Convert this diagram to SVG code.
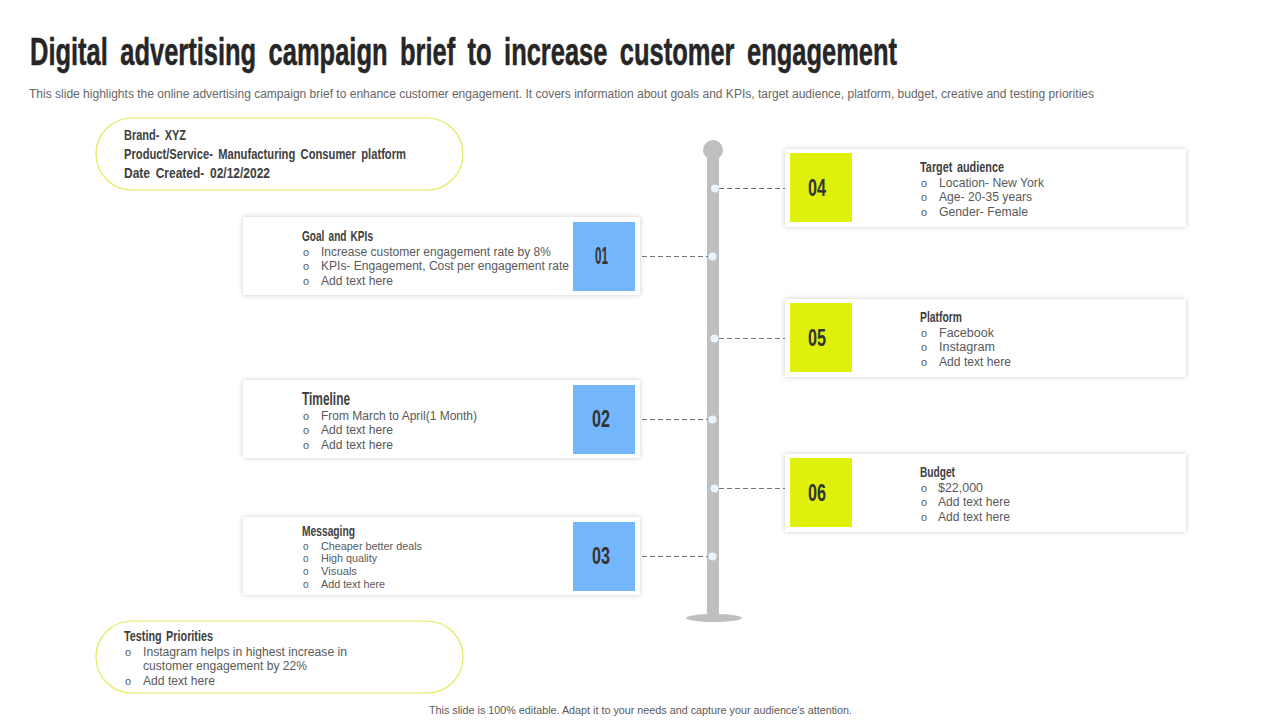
<svg xmlns="http://www.w3.org/2000/svg" width="1280" height="720" viewBox="0 0 1280 720">
<defs>
<filter id="sh" x="-5%" y="-15%" width="110%" height="130%"><feDropShadow dx="0" dy="0" stdDeviation="2.5" flood-color="#000" flood-opacity="0.2"/></filter>
</defs>
<style>
text{font-family:"Liberation Sans",Arial,sans-serif}
.t{font-weight:700;fill:#262626;stroke:#262626;stroke-width:.5}
.h{font-weight:700;fill:#404040;font-size:15px}
.b{font-size:12.5px;fill:#595959}
.o{font-size:11px;fill:#595959}
.n{font-weight:700;font-size:23px;fill:#333}
.card{fill:#fff;filter:url(#sh)}
.blue{fill:#73B6FB}
.lime{fill:#DFF00A}
.pill{fill:#fff;stroke:#E6E85A;stroke-width:1.2}
.pole{fill:#BFBFBF}
.dot{fill:#E8F5FE}
.c{stroke:#767676;stroke-width:1;stroke-dasharray:5 3;fill:none}
</style>
<rect width="1280" height="720" fill="#fff"/>
<text class="t" transform="translate(30 65) scale(.6 1)" x="0" y="0" font-size="38" word-spacing="8" textLength="1445" lengthAdjust="spacingAndGlyphs">Digital advertising campaign brief to increase customer engagement</text>
<text x="29" y="98" font-size="12" fill="#666" textLength="1065" lengthAdjust="spacingAndGlyphs">This slide highlights the online advertising campaign brief to enhance customer engagement. It covers information about goals and KPIs, target audience, platform, budget, creative and testing priorities</text>

<g id="pole">
<rect class="pole" x="707" y="150" width="12" height="468"/>
<circle class="pole" cx="713" cy="150" r="10"/>
<ellipse class="pole" cx="714" cy="618" rx="28" ry="4"/>
</g>
<g id="connectors">
<line class="c" x1="719" y1="188.5" x2="785" y2="188.5"/>
<line class="c" x1="642" y1="256.5" x2="708" y2="256.5"/>
<line class="c" x1="719" y1="338.5" x2="785" y2="338.5"/>
<line class="c" x1="642" y1="419.5" x2="708" y2="419.5"/>
<line class="c" x1="719" y1="488.5" x2="785" y2="488.5"/>
<line class="c" x1="642" y1="556.5" x2="708" y2="556.5"/>
<circle class="dot" cx="715" cy="188.5" r="4"/>
<circle class="dot" cx="712.5" cy="256.5" r="4"/>
<circle class="dot" cx="714.5" cy="338.5" r="4"/>
<circle class="dot" cx="712.5" cy="419.5" r="4"/>
<circle class="dot" cx="714.5" cy="488.5" r="4"/>
<circle class="dot" cx="712.5" cy="556.5" r="4"/>
</g>

<g id="brand-pill">
<rect class="pill" x="96" y="118" width="367" height="72" rx="36"/>
<text class="h" x="124" y="140" word-spacing="3" textLength="62" lengthAdjust="spacingAndGlyphs">Brand- XYZ</text>
<text class="h" x="124" y="159" word-spacing="3" textLength="282" lengthAdjust="spacingAndGlyphs">Product/Service- Manufacturing Consumer platform</text>
<text class="h" x="124" y="178" word-spacing="3" textLength="146" lengthAdjust="spacingAndGlyphs">Date Created- 02/12/2022</text>
</g>

<g id="node-01">
<rect class="card" x="243" y="217" width="397" height="78"/>
<rect class="blue" x="573" y="222" width="62" height="69"/>
<text class="n" x="595" y="264" textLength="13" lengthAdjust="spacingAndGlyphs">01</text>
<text class="h" x="302" y="241" word-spacing="2" textLength="71" lengthAdjust="spacingAndGlyphs">Goal and KPIs</text>
<text class="o" x="303" y="256">o</text><text class="b" x="321" y="256" textLength="230" lengthAdjust="spacingAndGlyphs">Increase customer engagement rate by 8%</text>
<text class="o" x="303" y="270">o</text><text class="b" x="321" y="270" textLength="248" lengthAdjust="spacingAndGlyphs">KPIs- Engagement, Cost per engagement rate</text>
<text class="o" x="303" y="285">o</text><text class="b" x="321" y="285" textLength="72" lengthAdjust="spacingAndGlyphs">Add text here</text>
</g>

<g id="node-02">
<rect class="card" x="243" y="380" width="397" height="78"/>
<rect class="blue" x="573" y="385" width="62" height="69"/>
<text class="n" x="592" y="427" textLength="18" lengthAdjust="spacingAndGlyphs">02</text>
<text class="h" x="302" y="405" style="font-size:18px" textLength="48" lengthAdjust="spacingAndGlyphs">Timeline</text>
<text class="o" x="303" y="420">o</text><text class="b" x="321" y="420" textLength="156" lengthAdjust="spacingAndGlyphs">From March to April(1 Month)</text>
<text class="o" x="303" y="434">o</text><text class="b" x="321" y="434" textLength="72" lengthAdjust="spacingAndGlyphs">Add text here</text>
<text class="o" x="303" y="449">o</text><text class="b" x="321" y="449" textLength="72" lengthAdjust="spacingAndGlyphs">Add text here</text>
</g>

<g id="node-03">
<rect class="card" x="243" y="517" width="397" height="78"/>
<rect class="blue" x="573" y="522" width="62" height="69"/>
<text class="n" x="592" y="564" textLength="18" lengthAdjust="spacingAndGlyphs">03</text>
<text class="h" x="302" y="536" textLength="53" lengthAdjust="spacingAndGlyphs">Messaging</text>
<text class="o" x="303" y="550" style="font-size:10px">o</text><text class="b" x="321" y="550" style="font-size:10.5px" textLength="101" lengthAdjust="spacingAndGlyphs">Cheaper better deals</text>
<text class="o" x="303" y="562" style="font-size:10px">o</text><text class="b" x="321" y="562" style="font-size:10.5px" textLength="56" lengthAdjust="spacingAndGlyphs">High quality</text>
<text class="o" x="303" y="575" style="font-size:10px">o</text><text class="b" x="321" y="575" style="font-size:10.5px" textLength="36" lengthAdjust="spacingAndGlyphs">Visuals</text>
<text class="o" x="303" y="588" style="font-size:10px">o</text><text class="b" x="321" y="588" style="font-size:10.5px" textLength="64" lengthAdjust="spacingAndGlyphs">Add text here</text>
</g>

<g id="node-04">
<rect class="card" x="785" y="149" width="401" height="78"/>
<rect class="lime" x="790" y="153" width="62" height="69"/>
<text class="n" x="808" y="196" textLength="18" lengthAdjust="spacingAndGlyphs">04</text>
<text class="h" x="920" y="172" word-spacing="2" textLength="84" lengthAdjust="spacingAndGlyphs">Target audience</text>
<text class="o" x="921" y="187">o</text><text class="b" x="939" y="187" textLength="105" lengthAdjust="spacingAndGlyphs">Location- New York</text>
<text class="o" x="921" y="201">o</text><text class="b" x="939" y="201" textLength="93" lengthAdjust="spacingAndGlyphs">Age- 20-35 years</text>
<text class="o" x="921" y="216">o</text><text class="b" x="939" y="216" textLength="89" lengthAdjust="spacingAndGlyphs">Gender- Female</text>
</g>

<g id="node-05">
<rect class="card" x="785" y="299" width="401" height="78"/>
<rect class="lime" x="790" y="303" width="62" height="69"/>
<text class="n" x="808" y="346" textLength="18" lengthAdjust="spacingAndGlyphs">05</text>
<text class="h" x="920" y="322" textLength="42" lengthAdjust="spacingAndGlyphs">Platform</text>
<text class="o" x="921" y="337">o</text><text class="b" x="939" y="337" textLength="55" lengthAdjust="spacingAndGlyphs">Facebook</text>
<text class="o" x="921" y="351">o</text><text class="b" x="939" y="351" textLength="56" lengthAdjust="spacingAndGlyphs">Instagram</text>
<text class="o" x="921" y="366">o</text><text class="b" x="939" y="366" textLength="72" lengthAdjust="spacingAndGlyphs">Add text here</text>
</g>

<g id="node-06">
<rect class="card" x="785" y="454" width="401" height="78"/>
<rect class="lime" x="790" y="458" width="62" height="69"/>
<text class="n" x="808" y="501" textLength="18" lengthAdjust="spacingAndGlyphs">06</text>
<text class="h" x="920" y="477" textLength="35" lengthAdjust="spacingAndGlyphs">Budget</text>
<text class="o" x="921" y="492">o</text><text class="b" x="938" y="492" textLength="45" lengthAdjust="spacingAndGlyphs">$22,000</text>
<text class="o" x="921" y="506">o</text><text class="b" x="938" y="506" textLength="72" lengthAdjust="spacingAndGlyphs">Add text here</text>
<text class="o" x="921" y="521">o</text><text class="b" x="938" y="521" textLength="72" lengthAdjust="spacingAndGlyphs">Add text here</text>
</g>

<g id="testing-pill">
<rect class="pill" x="96" y="621" width="367" height="72" rx="36"/>
<text class="h" x="124" y="641" word-spacing="2" textLength="89" lengthAdjust="spacingAndGlyphs">Testing Priorities</text>
<text class="o" x="125" y="656">o</text><text class="b" x="143" y="656" textLength="204" lengthAdjust="spacingAndGlyphs">Instagram helps in highest increase in</text>
<text class="b" x="143" y="670" textLength="164" lengthAdjust="spacingAndGlyphs">customer engagement by 22%</text>
<text class="o" x="125" y="685">o</text><text class="b" x="143" y="685" textLength="72" lengthAdjust="spacingAndGlyphs">Add text here</text>
</g>

<text x="429" y="714" font-size="10.5" fill="#595959" textLength="423" lengthAdjust="spacingAndGlyphs">This slide is 100% editable.  Adapt it to your needs and capture your audience's attention.</text>
</svg>
